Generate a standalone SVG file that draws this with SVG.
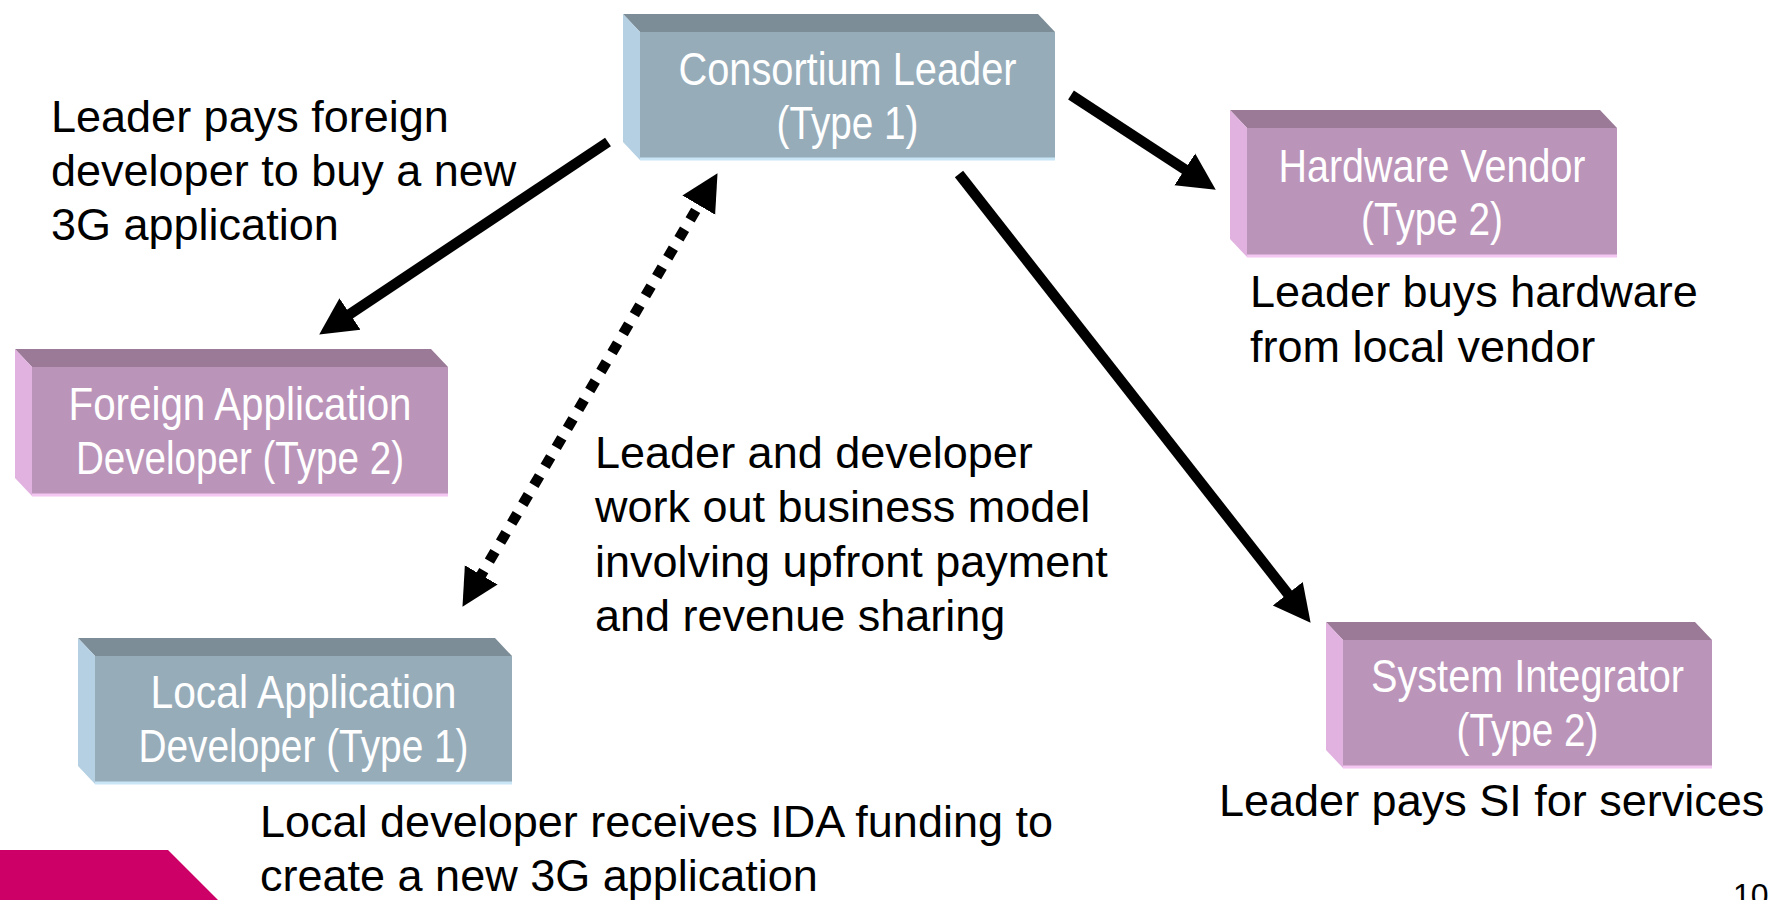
<svg xmlns="http://www.w3.org/2000/svg" width="1773" height="900" viewBox="0 0 1773 900">
<style>
.fb{fill:#97acb9}.tb{fill:#7c8d98}.sb{fill:#b4d0e2}.eb{stroke:#c9e6f7;stroke-width:3}
.fp{fill:#bb94b9}.tp{fill:#9a7a97}.sp{fill:#e1b1e0}.ep{stroke:#f4c6f2;stroke-width:3}
.lbl{font-family:"Liberation Sans Narrow","Liberation Sans",Arial,sans-serif;font-size:46px;fill:#fff;text-anchor:middle}
.body{font-family:"Liberation Sans",Arial,sans-serif;font-size:45px;fill:#000}
.conn{stroke:#000;stroke-width:10.5;fill:none}
.dot{stroke-dasharray:11 11}
</style>
<defs>
<marker id="ah" markerUnits="userSpaceOnUse" viewBox="0 -20 40 40" markerWidth="40" markerHeight="40" refX="6" refY="0" orient="auto-start-reverse">
<path d="M0,-19 L37,0 L0,19 z" fill="#000"/>
</marker>
</defs>
<rect width="1773" height="900" fill="#fff"/>

<g id="consortium-leader">
<polygon class="tb" points="623,14 1038,14 1055,32 640,32"/>
<polygon class="sb" points="623,14 640,32 640,160 623,142"/>
<rect class="fb" x="640" y="32" width="415" height="128"/>
<line class="eb" x1="640" y1="159" x2="1055" y2="159"/>
<text class="lbl" x="847.5" y="85" textLength="338" lengthAdjust="spacingAndGlyphs">Consortium Leader</text>
<text class="lbl" x="847.5" y="139" textLength="142" lengthAdjust="spacingAndGlyphs">(Type 1)</text>
</g>

<g id="hardware-vendor">
<polygon class="tp" points="1230,110 1600,110 1617,128 1247,128"/>
<polygon class="sp" points="1230,110 1247,128 1247,257 1230,239"/>
<rect class="fp" x="1247" y="128" width="370" height="129"/>
<line class="ep" x1="1247" y1="256" x2="1617" y2="256"/>
<text class="lbl" x="1432" y="182" textLength="307" lengthAdjust="spacingAndGlyphs">Hardware Vendor</text>
<text class="lbl" x="1432" y="235" textLength="142" lengthAdjust="spacingAndGlyphs">(Type 2)</text>
</g>

<g id="foreign-developer">
<polygon class="tp" points="15,349 431,349 448,367 32,367"/>
<polygon class="sp" points="15,349 32,367 32,496 15,478"/>
<rect class="fp" x="32" y="367" width="416" height="129"/>
<line class="ep" x1="32" y1="495" x2="448" y2="495"/>
<text class="lbl" x="240" y="420" textLength="343" lengthAdjust="spacingAndGlyphs">Foreign Application</text>
<text class="lbl" x="240" y="474" textLength="328" lengthAdjust="spacingAndGlyphs">Developer (Type 2)</text>
</g>

<g id="local-developer">
<polygon class="tb" points="78,638 495,638 512,656 95,656"/>
<polygon class="sb" points="78,638 95,656 95,784 78,766"/>
<rect class="fb" x="95" y="656" width="417" height="128"/>
<line class="eb" x1="95" y1="783" x2="512" y2="783"/>
<text class="lbl" x="303.5" y="708" textLength="306" lengthAdjust="spacingAndGlyphs">Local Application</text>
<text class="lbl" x="303.5" y="762" textLength="330" lengthAdjust="spacingAndGlyphs">Developer (Type 1)</text>
</g>

<g id="system-integrator">
<polygon class="tp" points="1326,622 1695,622 1712,640 1343,640"/>
<polygon class="sp" points="1326,622 1343,640 1343,768 1326,750"/>
<rect class="fp" x="1343" y="640" width="369" height="128"/>
<line class="ep" x1="1343" y1="767" x2="1712" y2="767"/>
<text class="lbl" x="1527.5" y="692" textLength="313" lengthAdjust="spacingAndGlyphs">System Integrator</text>
<text class="lbl" x="1527.5" y="746" textLength="142" lengthAdjust="spacingAndGlyphs">(Type 2)</text>
</g>

<g id="connectors">
<line class="conn" x1="608" y1="142" x2="345" y2="317.3" marker-end="url(#ah)"/>
<line class="conn" x1="1071" y1="95" x2="1189.8" y2="172.7" marker-end="url(#ah)"/>
<line class="conn" x1="959" y1="174" x2="1291.5" y2="598.4" marker-end="url(#ah)"/>
<line class="conn dot" x1="478.2" y1="580.1" x2="701.8" y2="199.9" marker-start="url(#ah)" marker-end="url(#ah)"/>
</g>

<g id="labels">
<text class="body" x="51" y="132">Leader pays foreign</text>
<text class="body" x="51" y="186">developer to buy a new</text>
<text class="body" x="51" y="240">3G application</text>
<text class="body" x="595" y="468">Leader and developer</text>
<text class="body" x="595" y="522">work out business model</text>
<text class="body" x="595" y="577">involving upfront payment</text>
<text class="body" x="595" y="631">and revenue sharing</text>
<text class="body" x="1250" y="307">Leader buys hardware</text>
<text class="body" x="1250" y="362">from local vendor</text>
<text class="body" x="1219" y="816">Leader pays SI for services</text>
<text class="body" x="260" y="837">Local developer receives IDA funding to</text>
<text class="body" x="260" y="891">create a new 3G application</text>
</g>

<polygon id="corner-band" points="0,850 168,850 218,900 0,900" fill="#cc0066"/>
<text class="body" x="1733" y="906" style="font-size:32px">10</text>
</svg>
